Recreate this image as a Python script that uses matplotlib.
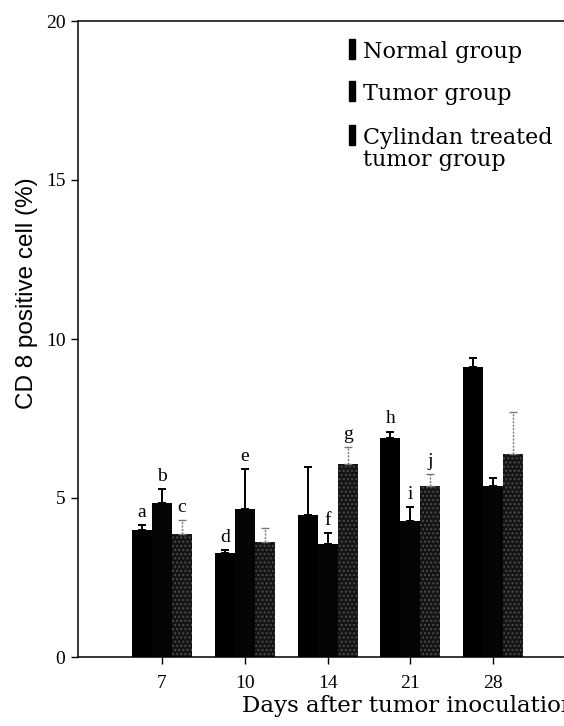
import matplotlib
matplotlib.use("Agg")
import matplotlib.pyplot as plt
from matplotlib.patches import Rectangle
import numpy as np

# values (mean, upper error)
days = ["7", "10", "14", "21", "28"]
normal = [4.0, 3.27, 4.47, 6.89, 9.12]
normal_err = [0.15, 0.10, 1.50, 0.20, 0.28]
tumor = [4.84, 4.65, 3.55, 4.28, 5.38]
tumor_err = [0.44, 1.25, 0.35, 0.44, 0.25]
cylindan = [3.87, 3.62, 6.07, 5.38, 6.38]
cylindan_err = [0.43, 0.43, 0.53, 0.37, 1.32]

normal_letters = ["a", "d", "", "h", ""]
tumor_letters = ["b", "e", "f", "i", ""]
cylindan_letters = ["c", "", "g", "j", ""]

legend_labels = ["Normal group", "Tumor group", "Cylindan treated", "tumor group"]

W, H = 564, 726
fig = plt.figure(figsize=(W / 100, H / 100), dpi=100)
ax = fig.add_axes([78 / W, 69 / H, 622 / W, 636 / H])

x = np.arange(len(days))
bw = 0.242
serif = "Liberation Serif"

groups = [
    (x - bw, normal, normal_err, normal_letters, "black", None),
    (x, tumor, tumor_err, tumor_letters, "#050505", None),
    (x + bw, cylindan, cylindan_err, cylindan_letters, "#141414", "...."),
]

for pos, vals, err, letters, col, hatch in groups:
    ax.bar(pos, vals, width=bw, color=col, edgecolor="#4a4a4a" if hatch else col,
           linewidth=0, hatch=hatch, zorder=2)
    lo = np.zeros(len(vals))
    dotted = hatch is not None
    eb = ax.errorbar(pos, vals, yerr=[lo, err], fmt="none",
                     ecolor="#777777" if dotted else "black",
                     elinewidth=1.0 if dotted else 1.4, capsize=3,
                     capthick=1.0 if dotted else 1.4, zorder=3)
    if dotted:
        eb[2][0].set_linestyle((0, (1.5, 1)))
    for px, v, e, lab in zip(pos, vals, err, letters):
        if lab:
            ax.annotate(lab, (px, v + e), xytext=(0, 3), textcoords="offset points",
                        ha="center", va="bottom", fontsize=14, family=serif)

ax.set_xlim(-1.015, 6.5)
ax.set_ylim(0, 20)
ax.set_xticks(x)
ax.set_xticklabels(days)
ax.set_yticks([0, 5, 10, 15, 20])
for lab in ax.get_xticklabels() + ax.get_yticklabels():
    lab.set_family(serif)
    lab.set_fontsize(14)
ax.tick_params(axis="y", direction="out", length=5, width=1, pad=4)
ax.tick_params(axis="x", direction="out", length=5, width=1, pad=8)
for s in ax.spines.values():
    s.set_linewidth(1.1)

ax.set_ylabel("CD 8 positive cell (%)", family="Liberation Sans", fontsize=17.5)
ax.yaxis.set_label_coords(-0.064, 0.572)
ax.set_xlabel("Days after tumor inoculation", family="DejaVu Serif", fontsize=16.5)
ax.xaxis.set_label_coords(0.264, -0.059)
ax.xaxis.label.set_ha("left")

# legend drawn by hand: thin bars next to the labels
baselines = [58, 100, 144, 166]
for i, (lab, yb) in enumerate(zip(legend_labels, baselines)):
    fig.text(363 / W, 1 - yb / H, lab, family="DejaVu Serif", fontsize=16,
             va="baseline", ha="left")
    if i < 3:
        fig.add_artist(Rectangle((349 / W, 1 - (yb + 1) / H), 6 / W, 20 / H,
                                 transform=fig.transFigure, color="black"))

fig.savefig("out.png", dpi=100)
